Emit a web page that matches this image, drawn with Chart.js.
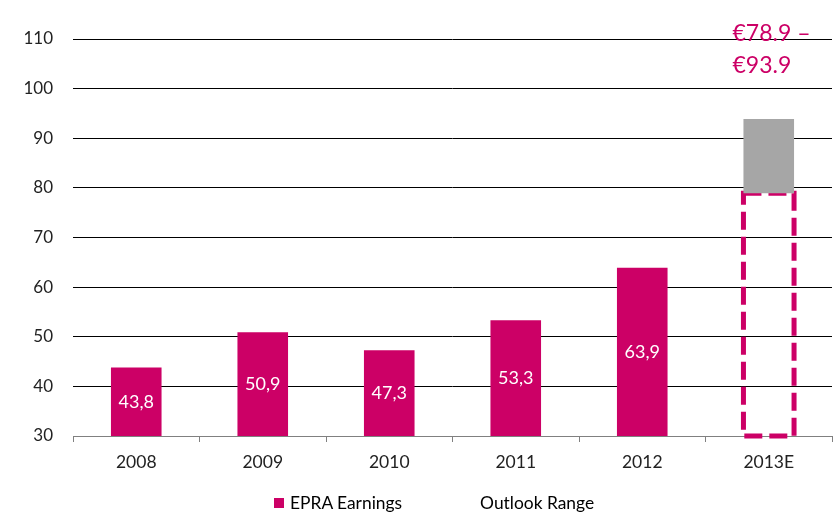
<!DOCTYPE html>
<html>
<head>
<meta charset="utf-8">
<script src="https://cdn.jsdelivr.net/npm/chart.js@4.4.1/dist/chart.umd.min.js"></script>
<style>
body{margin:0;background:#fff;}
#wrap{position:relative;width:836px;height:513px;}
#legend{position:absolute;left:274px;top:493px;display:flex;font:17.4px Lato, sans-serif;color:#000;line-height:20px;}
#legend .item{display:flex;align-items:center;margin-right:62px;}
#legend .box{width:10px;height:10px;margin-right:6px;}
</style>
</head>
<body>
<div id="wrap">
<canvas id="mainChart" width="836" height="513"></canvas>
<div id="legend"></div>
</div>
<script>
/* DATA */
const years = ["2008","2009","2010","2011","2012","2013E"];
const epra = [43.8,50.9,47.3,53.3,63.9,null];
const outlookLow = [null,null,null,null,null,78.9];
const outlookRange = [null,null,null,null,null,[78.9,93.9]];
const outlookText = ["€78.9 –","€93.9"];
const yMin = 30, yMax = 110, yStep = 10;

const MAGENTA = "#CC0066";
const GREY = "#A6A6A6";
const FONT = "Lato, sans-serif";

/* LABELS INSIDE BARS + DASHED OUTLOOK + ANNOTATION */
const extras = {
  id:"extras",
  beforeDatasetDraw(chart,args){
    // grey range (index 2) is drawn first, so put the dashed box under it
    if(args.index !== 2) return;
    const ctx = chart.ctx;
    const bottom = chart.scales.y.getPixelForValue(yMin);
    chart.getDatasetMeta(1).data.forEach((el,i)=>{
      if(outlookLow[i] == null) return;
      const l = el.x - el.width/2, r = el.x + el.width/2;
      ctx.save();
      ctx.strokeStyle = MAGENTA;
      ctx.lineWidth = 5;
      ctx.setLineDash([18,7]);
      ctx.strokeRect(l, el.y, r-l, bottom-el.y);
      ctx.restore();
    });
  },
  afterDatasetsDraw(chart){
    const ctx = chart.ctx;
    const bottom = chart.scales.y.getPixelForValue(yMin);
    ctx.save();
    ctx.fillStyle = "#fff";
    ctx.font = "18px " + FONT;
    ctx.textAlign = "center";
    ctx.textBaseline = "middle";
    chart.getDatasetMeta(0).data.forEach((el,i)=>{
      if(epra[i] == null) return;
      ctx.fillText(epra[i].toFixed(1).replace(".",","), el.x, (el.y+bottom)/2);
    });
    const meta = chart.getDatasetMeta(2);
    meta.data.forEach((el,i)=>{
      if(outlookRange[i] == null) return;
      ctx.fillStyle = MAGENTA;
      ctx.font = "23px " + FONT;
      ctx.textAlign = "left";
      const x = el.x - el.width/2 - 11;
      const top = chart.chartArea.top;
      ctx.fillText(outlookText[0], x, top - 5);
      ctx.fillText(outlookText[1], x, top + 27);
    });
    ctx.restore();
  }
};

const ctx = document.getElementById("mainChart");

const chart = new Chart(ctx,{
  type:"bar",
  data:{
    labels:years,
    datasets:[
      {label:"EPRA Earnings",data:epra,backgroundColor:MAGENTA,legendColor:MAGENTA},
      {label:"",data:outlookLow,backgroundColor:"rgba(0,0,0,0)"},
      {label:"Outlook Range",data:outlookRange,backgroundColor:GREY,legendColor:"#fff"}
    ]
  },
  options:{
    responsive:false,
    animation:false,
    layout:{padding:{top:39,right:4,bottom:32,left:0}},
    plugins:{legend:{display:false},tooltip:{enabled:false}},
    datasets:{bar:{barPercentage:0.4,categoryPercentage:1,grouped:false}},
    scales:{
      x:{
        stacked:true,
        offset:true,
        afterFit(s){ s.height = 45; },
        grid:{offset:true,drawOnChartArea:false,drawTicks:true,tickLength:6,color:"#808080"},
        border:{color:"#808080",width:1},
        ticks:{color:"#222",font:{family:FONT,size:17.5},padding:10}
      },
      y:{
        stacked:false,
        min:yMin,max:yMax,
        afterFit(s){ s.width = 73; },
        ticks:{stepSize:yStep,color:"#222",font:{family:FONT,size:17},padding:20},
        grid:{color:"#000",lineWidth:1,drawTicks:false},
        border:{display:false}
      }
    }
  },
  plugins:[extras]
});

/* LEGEND */
const legend = document.getElementById("legend");
chart.data.datasets.forEach(ds=>{
  if(!ds.label) return;
  const item = document.createElement("div");
  item.className = "item";
  const box = document.createElement("span");
  box.className = "box";
  box.style.background = ds.legendColor;
  const txt = document.createElement("span");
  txt.textContent = ds.label;
  item.appendChild(box);
  item.appendChild(txt);
  legend.appendChild(item);
});
</script>
</body>
</html>
